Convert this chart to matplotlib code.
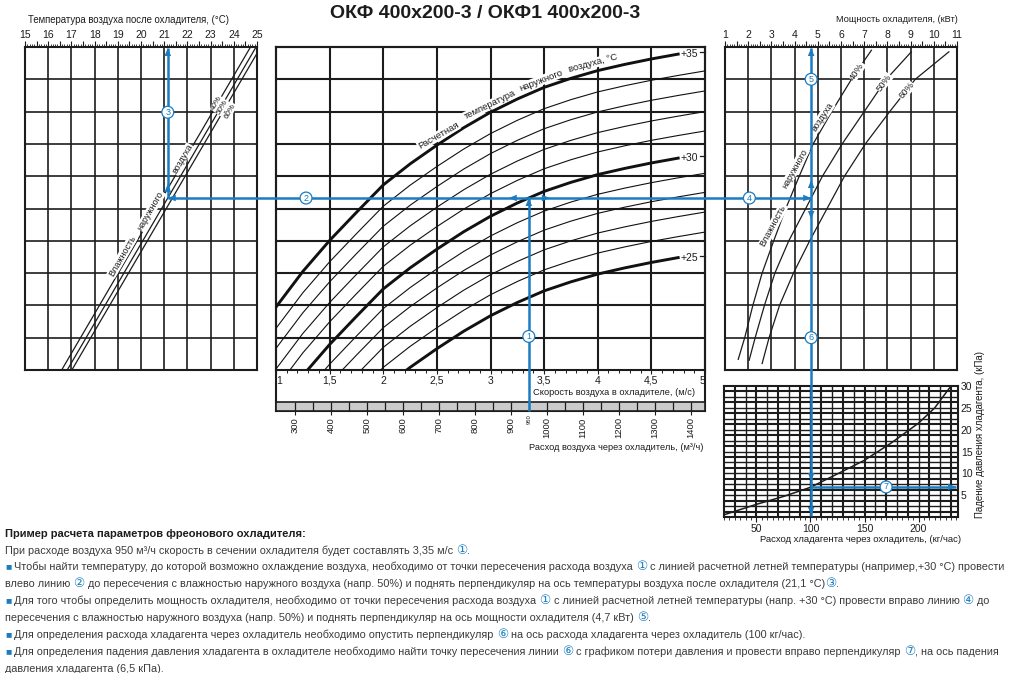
import numpy as np
import matplotlib
matplotlib.use("Agg")
import matplotlib.pyplot as plt
from matplotlib.patches import Polygon
from matplotlib.ticker import MultipleLocator, FuncFormatter

W, H = 1010, 673
plt.rcParams['font.family'] = ['Liberation Sans', 'DejaVu Sans']

# ── Data ──────────────────────────────────────────────────────────────

# middle panel: outdoor design temperature curves (rows in grid units 0..10)
VELOCITY = [1.0, 1.25, 1.5, 1.75, 2.0, 2.25, 2.5, 2.75, 3.0, 3.25, 3.5,
            3.75, 4.0, 4.25, 4.5, 4.75, 5.0]
OUTDOOR_CURVES = {
    35: [1.95, 3.05, 4.01, 4.88, 5.73, 6.38, 6.96, 7.50, 7.98, 8.39, 8.75, 9.03, 9.27, 9.46, 9.63, 9.78, 9.92],
    34: [1.29, 2.39, 3.35, 4.22, 5.07, 5.72, 6.30, 6.84, 7.32, 7.73, 8.09, 8.37, 8.61, 8.80, 8.97, 9.12, 9.26],
    33: [0.67, 1.77, 2.73, 3.60, 4.45, 5.10, 5.68, 6.22, 6.70, 7.11, 7.47, 7.75, 7.99, 8.18, 8.35, 8.50, 8.64],
    32: [0.03, 1.13, 2.09, 2.96, 3.81, 4.46, 5.04, 5.58, 6.06, 6.47, 6.83, 7.11, 7.35, 7.54, 7.71, 7.86, 8.00],
    31: [-0.57, 0.53, 1.49, 2.36, 3.21, 3.86, 4.44, 4.98, 5.46, 5.87, 6.23, 6.51, 6.75, 6.94, 7.11, 7.26, 7.40],
    30: [-1.27, -0.17, 0.79, 1.66, 2.51, 3.16, 3.74, 4.28, 4.76, 5.17, 5.53, 5.81, 6.05, 6.24, 6.41, 6.56, 6.70],
    29: [-1.88, -0.78, 0.18, 1.05, 1.90, 2.55, 3.13, 3.67, 4.15, 4.56, 4.92, 5.20, 5.44, 5.63, 5.80, 5.95, 6.09],
    28: [-2.47, -1.37, -0.41, 0.46, 1.31, 1.96, 2.54, 3.08, 3.56, 3.97, 4.33, 4.61, 4.85, 5.04, 5.21, 5.36, 5.50],
    27: [-3.08, -1.98, -1.02, -0.15, 0.70, 1.35, 1.93, 2.47, 2.95, 3.36, 3.72, 4.00, 4.24, 4.43, 4.60, 4.75, 4.89],
    26: [-3.70, -2.60, -1.64, -0.77, 0.08, 0.73, 1.31, 1.85, 2.33, 2.74, 3.10, 3.38, 3.62, 3.81, 3.98, 4.13, 4.27],
    25: [-4.35, -3.25, -2.29, -1.42, -0.57, 0.08, 0.66, 1.20, 1.68, 2.09, 2.45, 2.73, 2.97, 3.16, 3.33, 3.48, 3.62],
}
LABELLED_TEMPS = [35, 30, 25]
VELOCITY_TICKS = [1, 1.5, 2, 2.5, 3, 3.5, 4, 4.5, 5]

# air flow scale under the middle panel (m3/h at v = 1 and v = 5 m/s)
AIR_FLOW_LIMITS = (247, 1440)
AIR_FLOW_TICKS = [300, 400, 500, 600, 700, 800, 900, 1000, 1100, 1200, 1300, 1400]
AIR_FLOW_CELLS = list(range(300, 1401, 50))

# left panel: outlet temperature vs outdoor humidity (T at row 0 and row 10)
HUMIDITY_LEFT = {40: (16.58, 24.72), 50: (16.82, 24.96), 60: (17.02, 25.16)}
HUMIDITY_LEFT_LABELS = {40: (23.26, 8.25), 50: (23.50, 8.13), 60: (23.84, 8.02)}

# right panel: cooling power curves
HUM40_P = [1.57, 1.85, 2.2, 2.6, 3.1, 3.62, 4.2, 4.8, 5.6, 6.45, 7.31]
HUM40_U = [0.33, 1.0, 2.0, 3.0, 4.0, 5.0, 6.0, 7.0, 8.0, 9.0, 9.9]
HUM50_P = [2.04, 2.3, 2.7, 3.15, 3.75, 4.48, 5.2, 6.05, 7.0, 7.95, 9.03]
HUM50_U = [0.3, 1.0, 2.0, 3.0, 4.0, 5.0, 6.0, 7.0, 8.0, 9.0, 9.85]
HUM60_P = [2.6, 2.9, 3.35, 3.95, 4.65, 5.4, 6.15, 7.05, 8.1, 9.2, 10.65]
HUM60_U = [0.2, 1.0, 2.0, 3.0, 4.0, 5.0, 6.0, 7.0, 8.0, 9.0, 9.85]

# bottom right: refrigerant pressure drop
REFR_FLOW = [20, 50, 75, 100, 130, 150, 175, 200, 215, 230]
REFR_DP = [0.5, 2.9, 4.7, 6.8, 10.5, 13.0, 17.0, 21.5, 25.0, 30.0]

# worked example
AIR_FLOW_OP = 950

TITLE = "ОКФ 400х200-3 / ОКФ1 400х200-3"

NOTE_TITLE = "Пример расчета параметров фреонового охладителя:"
NOTE_LINES = [
    (False, [("При расходе воздуха 950 м³/ч скорость в сечении охладителя будет составлять 3,35 м/с ", "txt"),
             ("①", "num"), (".", "txt")]),
    (True, [("Чтобы найти температуру, до которой возможно охлаждение воздуха, необходимо от точки пересечения расхода воздуха ", "txt"),
            ("①", "num"), (" с линией расчетной летней температуры (например,+30 °С) провести", "txt")]),
    (False, [("влево линию ", "txt"), ("②", "num"),
             (" до пересечения с влажностью наружного воздуха (напр. 50%) и поднять перпендикуляр на ось температуры воздуха после охладителя (21,1 °С)", "txt"),
             ("③", "num"), (".", "txt")]),
    (True, [("Для того чтобы определить мощность охладителя, необходимо от точки пересечения расхода воздуха ", "txt"),
            ("①", "num"), (" с линией расчетной летней температуры (напр. +30 °С) провести вправо линию ", "txt"),
            ("④", "num"), (" до", "txt")]),
    (False, [("пересечения с влажностью наружного воздуха (напр. 50%) и поднять перпендикуляр на ось мощности охладителя (4,7 кВт) ", "txt"),
             ("⑤", "num"), (".", "txt")]),
    (True, [("Для определения расхода хладагента через охладитель необходимо опустить перпендикуляр ", "txt"),
            ("⑥", "num"), (" на ось расхода хладагента через охладитель (100 кг/час).", "txt")]),
    (True, [("Для определения падения давления хладагента в охладителе необходимо найти точку пересечения линии ", "txt"),
            ("⑥", "num"), (" с графиком потери давления и провести вправо перпендикуляр ", "txt"),
            ("⑦", "num"), (", на ось падения", "txt")]),
    (False, [("давления хладагента (6,5 кПа).", "txt")]),
]

# ── Styling ───────────────────────────────────────────────────────────

INK = "#1c1c1c"
BLUE = "#1b7cc0"
TXT = "#3a3a3a"

fig = plt.figure(figsize=(W / 100, H / 100), dpi=100)
fig.patch.set_facecolor("white")


def px_axes(x0, y0, x1, y1):
    return fig.add_axes([x0 / W, 1 - y1 / H, (x1 - x0) / W, (y1 - y0) / H])


def fig_text(x, y, s, **kw):
    return fig.text(x / W, 1 - y / H, s, **kw)


def frame(ax, lw=1.5):
    for sp in ax.spines.values():
        sp.set_linewidth(lw)
        sp.set_color(INK)


def ruler_top(ax, lo, hi):
    ax.xaxis.tick_top()
    ax.set_xticks(np.arange(lo, hi + 0.01, 0.5))
    ax.xaxis.set_minor_locator(MultipleLocator(0.1))
    ax.xaxis.set_major_formatter(FuncFormatter(lambda v, p: f"{v:.0f}" if abs(v - round(v)) < 1e-6 else ""))
    ax.tick_params(axis="x", which="major", direction="out", length=4, width=0.8, labelsize=7.5, pad=1, colors=INK)
    ax.tick_params(axis="x", which="minor", direction="out", length=2.2, width=0.6, colors=INK)
    ax.set_yticks([])


def on_line_label(ax, x, y, s, rot, size=6):
    ax.text(x, y, s, rotation=rot, rotation_mode="anchor", ha="center", va="center",
            fontsize=size, color=INK, zorder=5,
            bbox=dict(boxstyle="square,pad=0.05", fc="white", ec="none"))


# ── Left panel: air temperature after the cooler ──────────────────────
ax_t = px_axes(25, 47, 257, 370)
ax_t.set_xlim(15, 25)
ax_t.set_ylim(0, 10)
for t in range(16, 25):
    ax_t.axvline(t, color=INK, lw=1.2)
for u in range(1, 10):
    ax_t.axhline(u, color=INK, lw=1.2)
ruler_top(ax_t, 15, 25)
frame(ax_t)
for hum, (t0, t1) in HUMIDITY_LEFT.items():
    ax_t.plot([t0, t1], [0, 10], color=INK, lw=0.9)
for hum, (t, u) in HUMIDITY_LEFT_LABELS.items():
    on_line_label(ax_t, t, u, f"{hum}%", 60, size=5.8)
for word, t, u in [("Влажность", 19.19, 3.53), ("наружного", 20.42, 4.93), ("воздуха", 21.78, 6.53)]:
    on_line_label(ax_t, t, u, word, 60, size=6.5)
fig_text(28, 20, "Температура воздуха после охладителя, (°C)", fontsize=6.9, color=INK, va="center")

# ── Middle panel: air velocity / outdoor temperature ──────────────────
ax_f = px_axes(276, 47, 705, 411)
ax_f.set_xticks([])
ax_f.set_yticks([])
frame(ax_f)

ax_v = px_axes(276, 47, 705, 370)
ax_v.patch.set_visible(False)
ax_v.set_xlim(1, 5)
ax_v.set_ylim(0, 10)
for v in VELOCITY_TICKS[1:-1]:
    ax_v.axvline(v, color=INK, lw=1.5)
for u in range(1, 10):
    ax_v.axhline(u, color=INK, lw=1.5)
for temp, vals in OUTDOOR_CURVES.items():
    if temp in LABELLED_TEMPS:
        ax_v.plot(VELOCITY[:-1], vals[:-1], color="#111111", lw=2.1, zorder=3)
        ax_v.text(4.77, vals[-2], f"+{temp}", fontsize=7.5, va="center", ha="left", color=INK)
        ax_v.plot([4.95, 5.0], [vals[-2] + 0.05] * 2, color=INK, lw=0.9, clip_on=False)
    else:
        ax_v.plot(VELOCITY, vals, color="#111111", lw=0.8, zorder=3)
for word, v, u, rot in [("Расчетная", 2.513, 7.25, 30), ("температура", 2.995, 8.21, 26),
                        ("наружного", 3.468, 8.96, 21), ("воздуха, °C", 3.958, 9.50, 15)]:
    on_line_label(ax_v, v, u, word, rot, size=6.8)
ax_v.set_yticks([])
ax_v.set_xticks(VELOCITY_TICKS)
ax_v.set_xticklabels([f"{v:g}".replace(".", ",") for v in VELOCITY_TICKS])
ax_v.xaxis.set_minor_locator(MultipleLocator(0.1))
ax_v.tick_params(axis="x", which="major", direction="out", length=3, width=0.8, labelsize=7.5, pad=1, colors=INK)
ax_v.tick_params(axis="x", which="minor", direction="out", length=2.2, width=0.7, colors=INK)
vlabels = ax_v.get_xticklabels()
vlabels[0].set_horizontalalignment("left")
vlabels[-1].set_horizontalalignment("right")
frame(ax_v)
fig_text(695, 392.5, "Скорость воздуха в охладителе, (м/с)", fontsize=6.7, color=INK, ha="right", va="center")

ax_s = px_axes(276, 402, 705, 411)
ax_s.set_facecolor("#cbcbcb")
ax_s.set_xlim(*AIR_FLOW_LIMITS)
ax_s.set_ylim(0, 1)
ax_s.vlines(AIR_FLOW_CELLS, 0, 1, color=INK, lw=0.9)
ax_s.set_yticks([])
ax_s.set_xticks(AIR_FLOW_TICKS)
ax_s.set_xticklabels([str(t) for t in AIR_FLOW_TICKS], rotation=90)
ax_s.tick_params(axis="x", direction="out", length=3, width=0.8, labelsize=6.8, pad=1.5, colors=INK)
frame(ax_s, 1.2)
ax_s.text(AIR_FLOW_OP, -0.35, str(AIR_FLOW_OP), rotation=90, fontsize=4.2, ha="center", va="top", color=INK)
fig_text(703, 448, "Расход воздуха через охладитель, (м³/ч)", fontsize=6.7, color=INK, ha="right", va="center")

# ── Right panel: cooler power ─────────────────────────────────────────
ax_p = px_axes(725, 47, 957, 370)
ax_p.set_xlim(1, 11)
ax_p.set_ylim(0, 10)
for p in range(2, 11):
    ax_p.axvline(p, color=INK, lw=1.2)
for u in range(1, 10):
    ax_p.axhline(u, color=INK, lw=1.2)
ruler_top(ax_p, 1, 11)
frame(ax_p)
for pp, uu in [(HUM40_P, HUM40_U), (HUM50_P, HUM50_U), (HUM60_P, HUM60_U)]:
    ax_p.plot(pp, uu, color=INK, lw=0.9)
for s, pp, uu, u, rot in [("40%", HUM40_P, HUM40_U, 9.25, 57), ("50%", HUM50_P, HUM50_U, 8.9, 54),
                          ("60%", HUM60_P, HUM60_U, 8.65, 50)]:
    on_line_label(ax_p, np.interp(u, uu, pp), u, s, rot, size=6.8)
for word, p, u, rot in [("Влажность", 3.08, 4.48, 62), ("наружного", 4.01, 6.24, 61), ("воздуха", 5.2, 7.83, 57)]:
    on_line_label(ax_p, p, u, word, rot, size=6.5)
fig_text(958, 20, "Мощность охладителя, (кВт)", fontsize=6.6, color=INK, ha="right", va="center")

# ── Bottom right: refrigerant pressure drop ───────────────────────────
ax_r = px_axes(724, 386, 958, 517)
ax_r.set_xlim(20, 236.5)
ax_r.set_ylim(0, 30)
for f in range(30, 231, 10):
    ax_r.axvline(f, color=INK, lw=1.5 if f % 20 else 1.0)
for k in range(1, 24):
    ax_r.axhline(k * 1.25, color=INK, lw=1.5 if k % 2 else 1.0)
ax_r.plot(REFR_FLOW, REFR_DP, color=INK, lw=1.1, zorder=3)
ax_r.set_xticks([50, 100, 150, 200])
ax_r.xaxis.set_minor_locator(MultipleLocator(5))
ax_r.tick_params(axis="x", which="major", direction="out", length=3.5, width=0.8, labelsize=7.5, pad=1.5, colors=INK)
ax_r.tick_params(axis="x", which="minor", direction="out", length=2.2, width=0.6, colors=INK)
ax_r.yaxis.tick_right()
ax_r.set_yticks([5, 10, 15, 20, 25, 30])
ax_r.tick_params(axis="y", length=0, labelsize=7.5, pad=2, colors=INK)
frame(ax_r)
fig_text(861, 540, "Расход хладагента через охладитель, (кг/час)", fontsize=6.8, color=INK, ha="center", va="center")
fig_text(980, 434, "Падение давления хладагента, (кПа)", fontsize=7, color=INK, ha="center", va="center", rotation=90)

fig_text(485, 13, TITLE, fontsize=14, fontweight="bold", color=INK, ha="center", va="center")

# ── Worked example overlay (blue construction lines) ──────────────────
ov = fig.add_axes([0, 0, 1, 1])
ov.set_xlim(0, W)
ov.set_ylim(H, 0)
ov.axis("off")
ov.set_zorder(10)


def to_px(ax, x, y):
    dx, dy = ax.transData.transform((x, y))
    return dx, H - dy


def arrow_head(x, y, d, length=8, half=3.3):
    dx, dy = {"up": (0, -1), "down": (0, 1), "left": (-1, 0), "right": (1, 0)}[d]
    bx, by = x - dx * length, y - dy * length
    nx, ny = -dy * half, dx * half
    ov.add_patch(Polygon([(x, y), (bx + nx, by + ny), (bx - nx, by - ny)], closed=True, fc=BLUE, ec="none", zorder=12))


def step_label(x, y, s):
    ov.text(x, y, s, ha="center", va="center", fontsize=6.5, color=BLUE, zorder=13,
            bbox=dict(boxstyle="circle,pad=0.16", fc="white", ec=BLUE, lw=0.9))


v_op = np.interp(AIR_FLOW_OP, AIR_FLOW_LIMITS, (1, 5))
u_op = np.interp(v_op, VELOCITY, OUTDOOR_CURVES[30])
t_op = np.interp(u_op, [0, 10], HUMIDITY_LEFT[50])
p_op = np.interp(u_op, HUM50_U, HUM50_P)
refr_op = ax_r.transData.inverted().transform(ax_p.transData.transform((p_op, 0)))[0]
dp_op = np.interp(refr_op, REFR_FLOW, REFR_DP)

ax0, ay0 = to_px(ax_s, AIR_FLOW_OP, 0)
bx, by = to_px(ax_v, v_op, u_op)
lx, ly = to_px(ax_t, t_op, u_op)
_, ltop = to_px(ax_t, t_op, 10)
rx, ry = to_px(ax_p, p_op, u_op)
_, rtop = to_px(ax_p, p_op, 10)
_, rbot = to_px(ax_r, refr_op, 0)
dx_, dy_ = to_px(ax_r, refr_op, dp_op)
dend, _ = to_px(ax_r, 236.5, dp_op)

line_kw = dict(color=BLUE, lw=1.8, solid_capstyle="butt", zorder=11)
ov.plot([ax0, bx], [ay0, by], **line_kw)
ov.plot([lx, rx], [ly, ry], **line_kw)
ov.plot([lx, lx], [ltop + 1, ly], **line_kw)
ov.plot([rx, rx], [rtop + 1, rbot - 1], **line_kw)
ov.plot([rx, dend - 2], [dy_, dy_], **line_kw)

arrow_head(bx, by, "up")
arrow_head(bx - 20, by, "left")
arrow_head(bx + 21, by, "right")
arrow_head(lx, ly, "left")
arrow_head(lx, ly - 14, "up")
arrow_head(lx, ltop + 1, "up")
arrow_head(rx, ry, "right")
arrow_head(rx, ry - 18, "up")
arrow_head(rx, ry + 21, "down")
arrow_head(rx, rtop + 1, "up")
arrow_head(rx, dy_ - 6, "down")
arrow_head(rx, rbot - 2, "down")
arrow_head(dend - 2, dy_, "right")

step_label(*to_px(ax_v, v_op, 1.04), "1")
step_label(*to_px(ax_v, 1.28, u_op), "2")
step_label(*to_px(ax_t, t_op, 7.98), "3")
step_label(*to_px(ax_p, 2.05, u_op), "4")
step_label(*to_px(ax_p, p_op, 9.0), "5")
step_label(*to_px(ax_p, p_op, 1.0), "6")
step_label(*to_px(ax_r, 170, dp_op), "7")

# ── Explanatory text block ────────────────────────────────────────────
renderer = fig.canvas.get_renderer()
STYLES = {
    "txt": dict(fontsize=7.8, color=TXT),
    "num": dict(fontsize=9, color=BLUE, family=["DejaVu Sans", "Noto Sans CJK JP"]),
    "bul": dict(fontsize=7.5, color=BLUE),
}


def seg_width(s, **kw):
    t = fig.text(0, 0, s + "|", **kw)
    full = t.get_window_extent(renderer).width
    t.set_text("|")
    bar = t.get_window_extent(renderer).width
    t.remove()
    return full - bar


def rich_line(x, y, parts):
    for s, style in parts:
        kw = STYLES[style]
        lift = 0.8 if style == "bul" else 0
        fig_text(x, y - lift, s, va="baseline", ha="left", **kw)
        x += seg_width(s, **kw)


fig_text(5, 537, NOTE_TITLE, fontsize=8, fontweight="bold", color=INK, va="baseline")
y = 553.5
for bullet, parts in NOTE_LINES:
    if bullet:
        parts = [("■", "bul"), (" ", "txt")] + parts
    rich_line(5, y, parts)
    y += 16.9

fig.savefig("out.png", dpi=100)
